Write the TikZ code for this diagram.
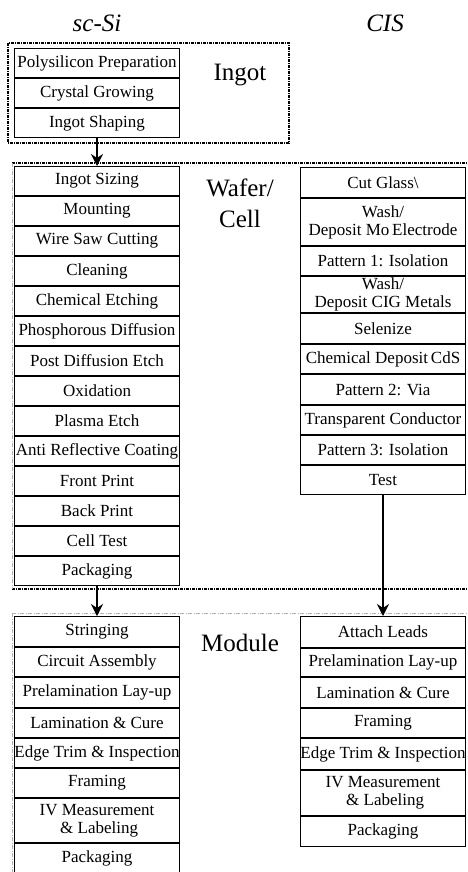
\documentclass[tikz,border=0pt]{standalone}
\usepackage{fontspec}
\setmainfont{Liberation Serif}
\newfontfamily\timesfont{Liberation Serif}
\usetikzlibrary{arrows.meta, positioning}

\begin{document}
\begin{tikzpicture}[
    x = 1pt, y = -1pt,
    node distance = 0pt,
    proc/.style = {rectangle, draw, line width=1.2pt, inner sep=0pt,
    minimum width=165pt, minimum height=28.8pt, align=center,
    font=\timesfont\fontsize{17}{18}\selectfont},
    region/.style = {line width=1.8pt, dash pattern=on 3pt off 1pt on 1pt off 1pt},
    faint/.style = {gray!60, line width=0.4pt, dash pattern=on 4pt off 1.5pt on 1pt off 1.5pt},
    flow/.style = {-{Stealth[length=12pt, width=12pt]}, line width=1.2pt},
    stagelbl/.style = {align=center, font=\timesfont\fontsize{25}{31}\selectfont},
    techlbl/.style = {font=\timesfont\itshape\fontsize{25}{30}\selectfont}
    ]
    \useasboundingbox (0,0) rectangle (467,872);
    %
    \node (scsi) [techlbl] at (97,23) {sc-Si};
    \node (cis) [techlbl] at (385,23) {CIS};
    %
    % ingot
    \draw[region] (8,43) rectangle (289,143);
    \node (ingot) [stagelbl] at (240,75) {Ingot};
    \node (poly) [proc, anchor=north] at (97,48) {Polysilicon Preparation};
    \node (crystal) [proc, below=of poly] {Crystal Growing};
    \node (shaping) [proc, below=of crystal] {Ingot Shaping};
    %
    % wafer / cell
    \draw[region] (12,163) -- (470,163);
    \draw[region] (12,589) -- (470,589);
    \draw[faint] (12,163) -- (12,589);
    \node (wafer) [stagelbl] at (240,203) {Wafer/\\Cell};
    \node (sizing) [proc, anchor=north] at (97,166) {Ingot Sizing};
    \node (mounting) [proc, below=of sizing] {Mounting};
    \node (wire) [proc, below=of mounting] {Wire Saw Cutting};
    \node (cleaning) [proc, below=of wire] {Cleaning};
    \node (etching) [proc, below=of cleaning] {Chemical Etching};
    \node (diffusion) [proc, below=of etching] {Phosphorous Diffusion};
    \node (postetch) [proc, below=of diffusion] {Post Diffusion Etch};
    \node (oxidation) [proc, below=of postetch] {Oxidation};
    \node (plasma) [proc, below=of oxidation] {Plasma Etch};
    \node (arc) [proc, below=of plasma] {Anti Reflective Coating};
    \node (front) [proc, below=of arc] {Front Print};
    \node (back) [proc, below=of front] {Back Print};
    \node (celltest) [proc, below=of back] {Cell Test};
    \node (packw) [proc, below=of celltest] {Packaging};
    %
    \node (cut) [proc, anchor=north, minimum height=29.8pt] at (383,167) {Cut Glass\textbackslash};
    \node (washmo) [proc, below=of cut, minimum height=46.8pt] {Wash/\\Deposit Mo\,Electrode};
    \node (pat1) [proc, below=of washmo] {Pattern 1: Isolation};
    \node (washcig) [proc, below=of pat1, minimum height=35.8pt] {Wash/\\Deposit CIG Metals};
    \node (selenize) [proc, below=of washcig, minimum height=29.8pt] {Selenize};
    \node (cds) [proc, below=of selenize] {Chemical Deposit\,CdS};
    \node (pat2) [proc, below=of cds, minimum height=29.8pt] {Pattern 2: Via};
    \node (tco) [proc, below=of pat2] {Transparent Conductor};
    \node (pat3) [proc, below=of tco] {Pattern 3: Isolation};
    \node (test) [proc, below=of pat3] {Test};
    %
    % module
    \draw[faint] (12,613) -- (470,613);
    \draw[faint] (12,613) -- (12,875);
    \node (module) [stagelbl] at (240,643) {Module};
    \node (string) [proc, anchor=north, minimum height=29.8pt] at (97,616) {Stringing};
    \node (circuit) [proc, below=of string] {Circuit Assembly};
    \node (prelam) [proc, below=of circuit, minimum height=29.8pt] {Prelamination Lay-up};
    \node (lam) [proc, below=of prelam] {Lamination \& Cure};
    \node (trim) [proc, below=of lam] {Edge Trim \& Inspection};
    \node (frame) [proc, below=of trim] {Framing};
    \node (ivm) [proc, below=of frame, minimum height=43.8pt] {IV Measurement\\\ \& Labeling};
    \node (packm) [proc, below=of ivm] {Packaging};
    %
    \node (leads) [proc, anchor=north, minimum height=30.8pt] at (383,616) {Attach Leads};
    \node (prelamc) [proc, below=of leads, minimum height=27.8pt] {Prelamination Lay-up};
    \node (lamc) [proc, below=of prelamc, minimum height=29.8pt] {Lamination \& Cure};
    \node (framec) [proc, below=of lamc] {Framing};
    \node (trimc) [proc, below=of framec, minimum height=30.8pt] {Edge Trim \& Inspection};
    \node (ivmc) [proc, below=of trimc, minimum height=44.8pt] {IV Measurement\\\ \& Labeling};
    \node (packc) [proc, below=of ivmc, minimum height=29.8pt] {Packaging};
    %
    \draw[flow] (shaping) -- (sizing);
    \draw[flow] (packw) -- (string);
    \draw[flow] (test) -- (leads);
\end{tikzpicture}
\end{document}
